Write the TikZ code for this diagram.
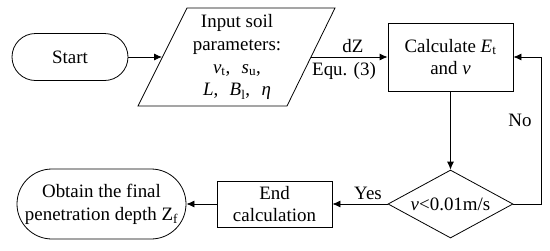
\documentclass[tikz,border=0pt]{standalone}
\usepackage{fontspec}
\setmainfont{Liberation Serif}
\usetikzlibrary{arrows.meta,shapes.misc,shapes.geometric}
\begin{document}
\begin{tikzpicture}[x=1bp,y=-1bp,
  every node/.style={font=\fontsize{19}{23}\selectfont, inner sep=0pt, align=center},
  box/.style={draw, line width=0.8bp, rectangle},
  term/.style={draw, line width=0.8bp, rounded rectangle},
  decis/.style={draw, line width=0.8bp, diamond},
  lbl/.style={font=\fontsize{19}{23}\selectfont},
  arr/.style={line width=0.8bp, -{Latex[length=8bp,width=7bp]}},
  ln/.style={line width=0.8bp}]
\useasboundingbox (0,0) rectangle (550,250);
\node[term, minimum width=116bp, minimum height=47bp] (start) at (70,57) {Start};
\node (para) at (237,57) {Input soil\\parameters:\\\textit{v}\textsubscript{t},\hspace{0.6em}\textit{s}\textsubscript{u},\\\textit{L},\hspace{0.6em}\textit{B}\textsubscript{l},\hspace{0.6em}\textit{η}};
\draw[ln] (138,106) -- (187,8) -- (335,8) -- (287,106) -- cycle;
\coordinate (pl) at (162,57);
\coordinate (pr) at (311,57);
\node[box, minimum width=125bp, minimum height=68bp] (calc) at (450.5,57) {Calculate \textit{E}\textsubscript{t}\\and \textit{v}};
\node[decis, minimum width=125bp, minimum height=68bp] (dec) at (450.5,204) {};
\node (dect) at (dec) {\textit{v}<0.01m/s};
\node[box, minimum width=115bp, minimum height=46bp] (endc) at (274.5,204) {End\\calculation};
\node[term, minimum width=169bp, minimum height=70bp] (obt) at (101.5,204) {Obtain the final\\penetration depth Z\textsubscript{f}};
\coordinate (fb1) at (541,204);
\coordinate (fb2) at (541,57);
\draw[arr] (start.east) -- (pl);
\draw[arr] (pr) -- (calc.west);
\draw[arr] (calc.south) -- (dec.north);
\draw[arr] (dec.west) -- (endc.east);
\draw[arr] (endc.west) -- (obt.east);
\draw[arr] (dec.east) -- (fb1) -- (fb2) -- (calc.east);
\node[lbl] (dz) at (353,46) {dZ};
\node[lbl] (equ) at (344,71) {Equ. (3)};
\node[lbl] (yes) at (368,193) {Yes};
\node[lbl] (no) at (520,120) {No};
\end{tikzpicture}
\end{document}
